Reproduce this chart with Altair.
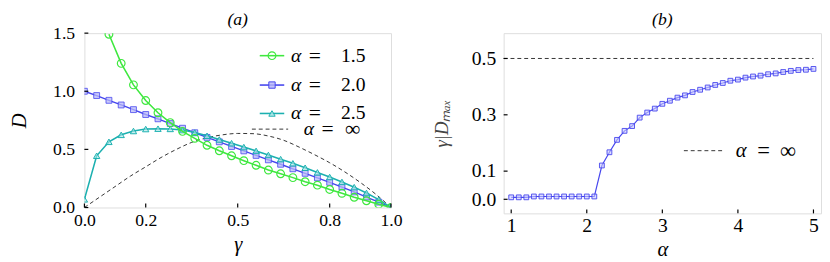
import altair as alt
import pandas as pd

SERIF = "Liberation Serif"
GREEN = "#3fe83f"
BLUE = "#4646ee"
BLUE_FILL = "#b8b8f8"
CYAN = "#1cb0b0"
CYAN_FILL = "#a8e6e6"
DASH = "#333333"

# ---------------- panel (a) data ----------------
gamma = [0.00, 0.04, 0.08, 0.12, 0.16, 0.20, 0.24, 0.28, 0.32, 0.36, 0.40, 0.44, 0.48,
         0.52, 0.56, 0.60, 0.64, 0.68, 0.72, 0.76, 0.80, 0.84, 0.88, 0.92, 0.96, 1.00]
d_15 = [None, None, 1.49, 1.24, 1.055, 0.92, 0.815, 0.73, 0.655, 0.595, 0.535, 0.488, 0.445,
        0.403, 0.363, 0.322, 0.29, 0.257, 0.222, 0.192, 0.155, 0.122, 0.088, 0.058, 0.028, 0.0]
d_20 = [1.0, 0.963, 0.922, 0.882, 0.842, 0.80, 0.763, 0.722, 0.682, 0.643, 0.603, 0.565, 0.525,
        0.487, 0.448, 0.41, 0.372, 0.333, 0.294, 0.255, 0.216, 0.176, 0.134, 0.09, 0.046, 0.0]
d_25 = [0.07, 0.445, 0.565, 0.625, 0.658, 0.675, 0.678, 0.676, 0.666, 0.645, 0.617, 0.585, 0.553,
        0.52, 0.487, 0.452, 0.416, 0.38, 0.342, 0.302, 0.262, 0.22, 0.175, 0.125, 0.068, 0.0]
gamma_inf = [0.0, 0.05, 0.10, 0.15, 0.20, 0.25, 0.30, 0.35, 0.40, 0.45, 0.50,
             0.55, 0.60, 0.65, 0.70, 0.75, 0.80, 0.85, 0.90, 0.95, 1.0]
d_inf = [0.0, 0.09, 0.18, 0.27, 0.35, 0.43, 0.50, 0.56, 0.60, 0.625, 0.637,
         0.635, 0.615, 0.578, 0.52, 0.455, 0.385, 0.305, 0.215, 0.115, 0.0]
xticks_a = [0.0, 0.2, 0.5, 0.8, 1.0]
yticks_a = [0.0, 0.5, 1.0, 1.5]

# ---------------- panel (b) data ----------------
alpha_b = [1.0, 1.1, 1.2, 1.3, 1.4, 1.5, 1.6, 1.7, 1.8, 1.9, 2.0, 2.1, 2.2, 2.3, 2.4, 2.5,
           2.6, 2.7, 2.8, 2.9, 3.0, 3.1, 3.2, 3.3, 3.4, 3.5, 3.6, 3.7, 3.8, 3.9, 4.0, 4.1,
           4.2, 4.3, 4.4, 4.5, 4.6, 4.7, 4.8, 4.9, 5.0]
g_dmax = [0.007, 0.007, 0.007, 0.01, 0.01, 0.01, 0.01, 0.01, 0.01, 0.01, 0.01, 0.01,
          0.12, 0.167, 0.211, 0.243, 0.26, 0.29, 0.308, 0.322, 0.339,
          0.35, 0.361, 0.369, 0.381, 0.389, 0.397, 0.406, 0.413, 0.421, 0.425,
          0.432, 0.436, 0.439, 0.444, 0.447, 0.452, 0.456, 0.459, 0.46, 0.463]
alpha_inf = [0.9, 5.0]
g_inf = [0.5, 0.5]
xticks_b = [1, 2, 3, 4, 5]
yticks_b = [0.0, 0.1, 0.3, 0.5]

WA, HA = 313, 178
WB, HB = 324, 184

common = dict(labelFont=SERIF, labelFontSize=18, labelColor="black", titleFont=SERIF,
              titleFontStyle="italic", titleFontWeight="normal", titleColor="black",
              titleFontSize=21, ticks=False, domain=False, grid=False,
              labelFlush=False, labelOverlap=False)

xs_a = alt.Scale(domain=[0, 1], nice=False, zero=False)
ys_a = alt.Scale(domain=[0, 1.5], nice=False, zero=False)
ax_xa = alt.Axis(values=xticks_a, format=".1f", title="γ", labelPadding=4, titlePadding=5, **common)
ax_ya = alt.Axis(values=yticks_a, format=".1f", title="D", labelPadding=10, titlePadding=24, **common)


def X(field, scale, axis):
    return alt.X(field, type="quantitative", scale=scale, axis=axis)


def Y(field, scale, axis):
    return alt.Y(field, type="quantitative", scale=scale, axis=axis)


def df2(xs, ys):
    return pd.DataFrame({"x": xs, "y": ys}).dropna()


df15 = df2(gamma, d_15)
df20 = df2(gamma, d_20)
df25 = df2(gamma, d_25)
dfinf = df2(gamma_inf, d_inf)

enc_a = dict(x=X("x", xs_a, ax_xa), y=Y("y", ys_a, ax_ya))

inf_line = alt.Chart(dfinf).mark_line(color=DASH, strokeDash=[4, 3], strokeWidth=1,
                                       interpolate="monotone", clip=True).encode(**enc_a)
l15 = alt.Chart(df15).mark_line(color=GREEN, strokeWidth=1.6, clip=True).encode(**enc_a)
p15 = alt.Chart(df15).mark_point(shape="circle", filled=False, color=GREEN, size=62,
                                 strokeWidth=1.2, opacity=1, clip=True).encode(**enc_a)
l20 = alt.Chart(df20).mark_line(color=BLUE, strokeWidth=1.4, clip=True).encode(**enc_a)
p20 = alt.Chart(df20).mark_point(shape="square", filled=True, fill=BLUE_FILL, stroke=BLUE,
                                 fillOpacity=0.75, strokeWidth=0.8, size=36, opacity=1,
                                 clip=True).encode(**enc_a)
l25 = alt.Chart(df25).mark_line(color=CYAN, strokeWidth=1.6, clip=True).encode(**enc_a)
p25 = alt.Chart(df25).mark_point(shape="triangle-up", filled=True, fill=CYAN_FILL, stroke=CYAN,
                                 fillOpacity=0.6, strokeWidth=1, size=42, opacity=1,
                                 clip=True).encode(**enc_a)

tx_a = alt.Chart(pd.DataFrame({"x": xticks_a})).mark_rule(color="black", strokeWidth=1.2).encode(
    x=X("x", xs_a, ax_xa), y=alt.value(HA), y2=alt.value(HA - 4))
ty_a = alt.Chart(pd.DataFrame({"y": yticks_a})).mark_rule(color="black", strokeWidth=1.2).encode(
    y=Y("y", ys_a, ax_ya), x=alt.value(0), x2=alt.value(4))

one = pd.DataFrame({"k": [0]})


def leg_line(x1, x2, yy, color, dash=None, width=1.6):
    kw = dict(color=color, strokeWidth=width)
    if dash:
        kw["strokeDash"] = dash
    return alt.Chart(one).mark_rule(**kw).encode(x=alt.value(x1), x2=alt.value(x2), y=alt.value(yy))


def leg_text(xx, yy, txt, italic=False, size=20, align="left"):
    kw = dict(font=SERIF, fontSize=size, align=align, baseline="middle", color="black")
    if italic:
        kw["fontStyle"] = "italic"
    return alt.Chart(one).mark_text(**kw).encode(x=alt.value(xx), y=alt.value(yy), text=alt.value(txt))


leg_a = []
for yy, col, shape, fill, lab in [(23, GREEN, "circle", None, "1.5"),
                                  (53, BLUE, "square", BLUE_FILL, "2.0"),
                                  (82, CYAN, "triangle-up", CYAN_FILL, "2.5")]:
    leg_a.append(leg_line(179, 204, yy, col))
    if fill is None:
        mk = alt.Chart(one).mark_point(shape=shape, filled=False, color=col, size=62, strokeWidth=1.2, opacity=1)
    else:
        mk = alt.Chart(one).mark_point(shape=shape, filled=True, fill=fill, stroke=col, size=42,
                                       strokeWidth=1, opacity=1, fillOpacity=0.8)
    leg_a.append(mk.encode(x=alt.value(191.5), y=alt.value(yy)))
    leg_a.append(leg_text(211, yy, "α", italic=True))
    leg_a.append(leg_text(229, yy, "=", size=22))
    leg_a.append(leg_text(262, yy, lab))
leg_a.append(leg_line(171, 208, 98, DASH, dash=[4, 3], width=1))
leg_a.append(leg_text(224, 98, "α", italic=True))
leg_a.append(leg_text(242, 98, "=", size=22))
leg_a.append(leg_text(266, 98, "∞", size=22))

ttl_a = leg_text(WA / 2, -13, "(a)", italic=True, size=18, align="center")

panel_a = alt.layer(inf_line, l20, p20, l25, p25, l15, p15, tx_a, ty_a, ttl_a, *leg_a).properties(
    width=WA, height=HA)

# ---------------- panel (b) ----------------
xs_b = alt.Scale(domain=[0.9, 5.1], nice=False, zero=False)
ys_b = alt.Scale(domain=[-0.05, 0.59], nice=False, zero=False)
common_b = dict(common)
common_b["labelFontSize"] = 20
ax_xb = alt.Axis(values=xticks_b, format="d", title="α", labelPadding=3, titlePadding=3, **common_b)
common_by = dict(common_b)
common_by["titleColor"] = "#444444"
common_by["titleFontSize"] = 19
ax_yb = alt.Axis(values=yticks_b, format=".1f", title="γ|Dₘₐₓ", labelPadding=8, titlePadding=20, **common_by)
enc_b = dict(x=X("x", xs_b, ax_xb), y=Y("y", ys_b, ax_yb))

dfb = df2(alpha_b, g_dmax)
dfbinf = df2(alpha_inf, g_inf)
lb = alt.Chart(dfb).mark_line(color=BLUE, strokeWidth=1.2).encode(**enc_b)
pb = alt.Chart(dfb).mark_point(shape="square", filled=True, fill="#c8c8ff", stroke=BLUE,
                               fillOpacity=0.6, strokeWidth=0.9, size=24, opacity=1).encode(**enc_b)
linf_b = alt.Chart(dfbinf).mark_line(color=DASH, strokeDash=[4, 3], strokeWidth=1).encode(**enc_b)
tx_b = alt.Chart(pd.DataFrame({"x": xticks_b})).mark_rule(color="black", strokeWidth=1.2).encode(
    x=X("x", xs_b, ax_xb), y=alt.value(HB), y2=alt.value(HB - 4))
ty_b = alt.Chart(pd.DataFrame({"y": yticks_b})).mark_rule(color="black", strokeWidth=1.2).encode(
    y=Y("y", ys_b, ax_yb), x=alt.value(0), x2=alt.value(4))
leg_b = [leg_line(184, 224, 120, DASH, dash=[4, 3], width=1),
         leg_text(237, 120, "α", italic=True, size=21),
         leg_text(259, 120, "=", size=23),
         leg_text(282, 120, "∞", size=23)]
ttl_b = leg_text(WB / 2, -13, "(b)", italic=True, size=18, align="center")

panel_b = alt.layer(linf_b, lb, pb, tx_b, ty_b, ttl_b, *leg_b).properties(width=WB, height=HB)

chart = alt.hconcat(panel_a, panel_b, spacing=30).properties(
    padding={"left": 0, "top": 0, "right": 0, "bottom": 0}
).configure_view(stroke="black", strokeWidth=1.5).configure(background="white")

chart.save("out.html", embed_options={"renderer": "svg", "actions": False})
